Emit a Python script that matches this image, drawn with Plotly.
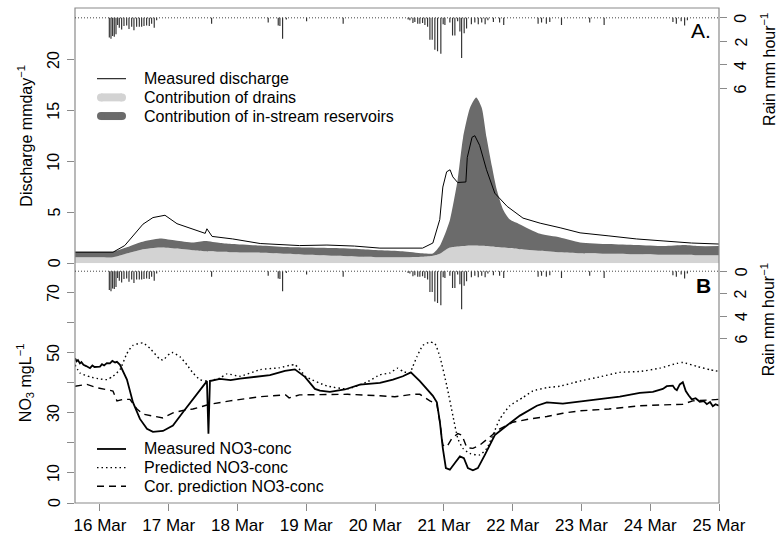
import plotly.graph_objects as go

# ---------------- data (time = day of March, fractional) ----------------
# Measured discharge (mm/day)
q_time = [15.637, 16.19, 16.36, 16.48, 16.625, 16.77, 16.945, 17.12, 17.35, 17.53, 17.555,
          17.63, 17.93, 18.33, 18.9, 19.3, 19.7, 20.07, 20.69, 20.84, 20.94, 20.985, 21.04,
          21.09, 21.13, 21.2, 21.32, 21.34, 21.41, 21.45, 21.52, 21.62, 21.74, 21.92, 22.15,
          22.40, 22.69, 22.98, 23.4, 23.8, 24.2, 24.6, 25.0]
q_measured = [1.1, 1.1, 1.75, 2.7, 3.85, 4.5, 4.73, 3.9, 3.35, 2.95, 3.4,
              2.65, 2.4, 1.95, 1.75, 1.8, 1.7, 1.5, 1.5, 2.0, 4.3, 7.5, 9.0,
              9.2, 8.5, 7.95, 8.0, 10.4, 12.4, 12.55, 11.6, 9.2, 6.9, 5.6, 4.45,
              3.95, 3.5, 3.0, 2.7, 2.4, 2.2, 2.0, 1.9]

# Modelled contributions (mm/day)
c_time = [15.637, 16.0, 16.19, 16.4, 16.6, 16.87, 17.1, 17.35, 17.53, 17.75, 17.93, 18.33,
          18.7, 19.0, 19.4, 19.8, 20.07, 20.4, 20.69, 20.84, 20.94, 21.04, 21.09, 21.2,
          21.28, 21.38, 21.47, 21.55, 21.62, 21.70, 21.77, 21.86, 21.96, 22.1, 22.4, 22.69,
          22.98, 23.4, 23.8, 24.2, 24.5, 24.7, 25.0]
q_drains = [0.6, 0.6, 0.6, 1.0, 1.35, 1.55, 1.45, 1.3, 1.2, 1.15, 1.1, 1.05,
            0.95, 0.85, 0.75, 0.65, 0.6, 0.6, 0.65, 0.75, 0.95, 1.4, 1.55, 1.65,
            1.7, 1.75, 1.75, 1.72, 1.7, 1.65, 1.6, 1.55, 1.5, 1.4, 1.25, 1.1,
            1.0, 0.95, 0.9, 0.85, 0.85, 0.8, 0.8]
q_reservoirs = [0.55, 0.55, 0.55, 0.6, 0.75, 0.9, 0.8, 0.75, 1.0, 0.85, 0.8, 0.7,
                0.65, 0.7, 0.75, 0.75, 0.7, 0.6, 0.35, 0.22, 0.75, 1.9, 2.75, 6.55,
                10.7, 13.55, 14.55, 13.58, 10.7, 7.85, 5.6, 3.75, 2.8, 2.45, 1.65, 1.45,
                1.06, 0.95, 0.9, 0.85, 0.95, 0.9, 0.9]

# NO3 concentrations (mg/L)
n_time = [15.637, 15.66, 15.68, 15.709, 15.73, 15.76, 15.8, 15.855, 15.89, 15.92, 16.0,
          16.03, 16.06, 16.1, 16.145, 16.18, 16.22, 16.247,
          16.291, 16.334, 16.392, 16.48, 16.581, 16.683, 16.77, 16.916, 17.061, 17.206,
          17.352, 17.497, 17.555, 17.577, 17.599, 17.744, 17.9, 18.035, 18.2, 18.326,
          18.471, 18.6, 18.689, 18.834, 18.98, 19.125, 19.198, 19.343, 19.561, 19.779,
          20.07, 20.259, 20.404, 20.52, 20.651, 20.84, 20.898, 20.942, 20.985, 21.029,
          21.087, 21.16, 21.233, 21.291, 21.349, 21.422, 21.494, 21.596, 21.741, 21.916,
          22.105, 22.352, 22.497, 22.73, 22.977, 23.267, 23.558, 23.849, 24.038, 24.183,
          24.241, 24.328, 24.36, 24.387, 24.43, 24.474, 24.517, 24.56, 24.605, 24.66,
          24.721, 24.78, 24.823, 24.87, 24.91, 24.95, 25.0]
no3_measured = [48.2, 47.2, 47.6, 46.5, 46.9, 46.0, 45.6, 44.9, 45.8, 45.3, 45.4,
                46.2, 45.8, 46.6, 46.5, 47.3, 46.8, 47.0,
                46.0, 44.0, 41.1, 33.5, 28.0, 24.7, 23.7, 24.0, 25.8, 30.2,
                34.5, 38.9, 40.6, 23.1, 40.6, 41.3, 40.9, 41.4, 41.9, 42.2,
                42.6, 43.4, 44.0, 44.5, 42.0, 38.0, 37.4, 37.0, 37.8, 39.4,
                40.0, 41.1, 42.2, 43.5, 40.6, 35.7, 33.5, 26.9, 18.2, 11.6,
                11.1, 13.3, 15.5, 14.9, 11.6, 10.9, 11.6, 16.0, 22.6, 25.8,
                29.1, 32.4, 33.5, 33.1, 33.8, 34.5, 35.4, 36.7, 37.0, 38.0,
                38.9, 39.1, 38.0, 37.6, 39.5, 40.2, 37.3, 35.8, 34.5, 34.9,
                33.7, 33.9, 32.9, 33.6, 32.2, 32.9, 32.4]

p_time = [15.637, 15.709, 15.855, 16.0, 16.102, 16.189, 16.291, 16.392, 16.48, 16.625,
          16.727, 16.872, 16.916, 17.017, 17.061, 17.163, 17.265, 17.352, 17.453, 17.555,
          17.744, 17.846, 18.035, 18.326, 18.6, 18.834, 19.0, 19.3, 19.6, 19.9, 20.07,
          20.215, 20.331, 20.404, 20.506, 20.549, 20.608, 20.695, 20.797, 20.869, 20.942,
          21.044, 21.131, 21.203, 21.276, 21.378, 21.523, 21.625, 21.712, 21.814, 21.959,
          22.148, 22.294, 22.497, 22.686, 22.875, 22.977, 23.267, 23.558, 23.849, 24.14,
          24.387, 24.474, 24.677, 24.866, 25.0]
no3_predicted = [46.0, 43.3, 42.0, 41.3, 41.1, 42.2, 44.4, 49.8, 52.5, 53.3,
                 51.5, 47.9, 47.6, 49.8, 50.1, 48.7, 46.0, 43.3, 41.1, 40.6,
                 41.6, 43.0, 42.2, 44.4, 45.0, 46.0, 42.0, 39.0, 38.0, 40.5, 42.7,
                 43.3, 44.9, 43.8, 43.3, 45.5, 48.7, 52.5, 53.6, 53.1, 48.7,
                 38.9, 29.1, 21.5, 18.2, 16.5, 16.0, 18.2, 22.6, 28.0, 32.4,
                 35.1, 37.3, 38.4, 38.9, 40.0, 40.6, 42.0, 43.5, 43.8, 44.9,
                 46.5, 46.8, 45.5, 44.4, 43.8]

k_time = [15.637, 15.811, 15.956, 16.102, 16.189, 16.247, 16.334, 16.436, 16.538, 16.625,
          16.727, 16.916, 17.061, 17.206, 17.352, 17.497, 17.599, 17.89, 18.326, 18.7,
          18.75, 18.9, 19.2, 19.6, 20.07, 20.288, 20.549, 20.651, 20.797, 20.898, 20.942,
          20.985, 21.044, 21.116, 21.203, 21.262, 21.334, 21.422, 21.523, 21.669, 21.814,
          22.003, 22.25, 22.497, 22.73, 22.977, 23.4, 23.849, 24.241, 24.474, 24.619,
          24.823, 25.0]
no3_corrected = [38.9, 39.5, 38.4, 37.6, 37.3, 34.0, 34.5, 34.5, 31.3, 29.6,
                 29.1, 28.3, 30.0, 30.8, 31.3, 32.2, 32.9, 34.0, 35.4, 36.0,
                 35.0, 36.0, 36.0, 36.2, 35.7, 35.4, 36.2, 36.2, 34.0, 32.9, 26.9,
                 19.3, 18.7, 21.5, 23.1, 22.6, 18.4, 18.2, 19.3, 22.0, 24.7,
                 26.9, 28.0, 28.8, 29.9, 30.7, 31.3, 32.4, 32.6, 32.9, 34.0,
                 34.2, 34.5]

# Rainfall (mm/hour)
rain_time = [16.136, 16.160, 16.184, 16.208, 16.233, 16.257, 16.281, 16.315, 16.349, 16.388,
             16.422, 16.461, 16.494, 16.533, 16.572, 16.606, 16.640, 16.678, 16.717, 16.751,
             16.789, 16.824, 17.623, 18.446, 18.592, 18.616, 18.655, 18.71, 19.004, 19.536,
             20.48, 20.506, 20.55, 20.578, 20.62, 20.651, 20.69, 20.724, 20.763, 20.797,
             20.83, 20.869, 20.908, 20.956, 20.99, 21.015, 21.087, 21.126, 21.16, 21.2,
             21.233, 21.258, 21.295, 21.33, 21.40, 21.45, 21.5, 21.55, 21.6, 21.64, 21.72,
             21.81, 21.87, 22.37, 22.42, 22.49, 22.54, 22.71, 23.12, 23.33, 24.33, 24.38,
             24.45, 24.5, 24.54]
rain_mm = [1.67, 1.78, 1.55, 1.6, 1.4, 0.6, 0.85, 1.0, 0.7, 0.65,
           0.95, 0.75, 1.05, 0.75, 0.75, 0.75, 0.7, 0.65, 0.7, 0.5,
           0.85, 0.2, 0.5, 0.4, 0.65, 0.7, 1.78, 0.15, 0.3, 0.5,
           0.15, 0.2, 0.45, 0.35, 0.5, 0.5, 0.45, 0.6, 0.75, 1.86,
           1.86, 2.7, 2.83, 3.05, 0.55, 0.6, 0.4, 1.5, 1.5, 0.3,
           1.17, 3.4, 1.3, 0.9, 0.55, 0.4, 0.55, 0.4, 0.55, 0.2, 0.35,
           0.4, 0.6, 0.5, 0.4, 0.5, 0.35, 0.6, 0.4, 0.6, 0.35, 0.5,
           0.3, 0.65, 0.2]

day_ticks = [16, 17, 18, 19, 20, 21, 22, 23, 24, 25]
day_labels = ["16 Mar", "17 Mar", "18 Mar", "19 Mar", "20 Mar",
              "21 Mar", "22 Mar", "23 Mar", "24 Mar", "25 Mar"]
discharge_ticks = [0, 5, 10, 15, 20]
no3_ticks = [0, 10, 20, 30, 40, 50, 60, 70]
no3_labels = ["0", "10", "", "30", "", "50", "", "70"]
rain_ticks = [0, 2, 4, 6]

# ---------------- figure ----------------
FONT = "Liberation Sans, Arial, Helvetica, sans-serif"
FRAME = "#8a8a8a"
LIGHT = "#d3d3d3"
DARK = "#6b6b6b"
SPLIT = 0.4841  # boundary between the two panels (paper units)

q_total = [d + r for d, r in zip(q_drains, q_reservoirs)]

fig = go.Figure()

# Panel A: stacked contributions + measured discharge
fig.add_trace(go.Scatter(x=c_time, y=q_drains, mode="lines", fill="tozeroy",
                         line=dict(width=0, color=LIGHT, shape="spline", smoothing=0.6),
                         fillcolor=LIGHT, xaxis="x", yaxis="y", hoverinfo="skip"))
fig.add_trace(go.Scatter(x=c_time, y=q_total, mode="lines", fill="tonexty",
                         line=dict(width=0, color=DARK, shape="spline", smoothing=0.6),
                         fillcolor=DARK, xaxis="x", yaxis="y", hoverinfo="skip"))
fig.add_trace(go.Scatter(x=q_time, y=q_measured, mode="lines",
                         line=dict(width=1, color="black"),
                         xaxis="x", yaxis="y", hoverinfo="skip"))

# Rain bars hanging from the top of each panel
for ax in ("y2", "y4"):
    fig.add_trace(go.Bar(x=rain_time, y=rain_mm, width=0.017,
                         marker=dict(color="#333333", line=dict(width=0)),
                         xaxis="x", yaxis=ax, hoverinfo="skip"))

# Panel B: NO3 concentrations
fig.add_trace(go.Scatter(x=n_time, y=no3_measured, mode="lines",
                         line=dict(width=1.8, color="black"),
                         xaxis="x", yaxis="y3", hoverinfo="skip"))
fig.add_trace(go.Scatter(x=p_time, y=no3_predicted, mode="lines",
                         line=dict(width=1.4, color="black", dash="1.5px,3px",
                                   shape="spline", smoothing=0.5),
                         xaxis="x", yaxis="y3", hoverinfo="skip"))
fig.add_trace(go.Scatter(x=k_time, y=no3_corrected, mode="lines",
                         line=dict(width=1.4, color="black", dash="7px,5px"),
                         xaxis="x", yaxis="y3", hoverinfo="skip"))

tick_common = dict(ticks="outside", ticklen=7, tickcolor=FRAME, tickwidth=1,
                   showgrid=False, zeroline=False, showline=False)
ylab_off = dict(showticklabels=False)

fig.update_layout(
    width=780, height=543,
    margin=dict(l=75, r=61, t=8, b=31),
    paper_bgcolor="white", plot_bgcolor="white",
    showlegend=False, barmode="overlay",
    font=dict(family=FONT, size=16, color="black"),
    xaxis=dict(range=[15.637, 25.0], tickvals=day_ticks, ticktext=day_labels,
               anchor="y3", tickfont=dict(family=FONT, size=17, color="black"),
               **tick_common),
    yaxis=dict(domain=[SPLIT, 1], range=[0, 25.1], tickvals=discharge_ticks,
               anchor="x", **ylab_off, **tick_common),
    yaxis2=dict(overlaying="y", side="right", range=[20.83, -0.833],
                tickvals=rain_ticks, anchor="x", **ylab_off, **tick_common),
    yaxis3=dict(domain=[0, SPLIT], range=[0, 79.8], tickvals=no3_ticks,
                anchor="x", **ylab_off, **tick_common),
    yaxis4=dict(overlaying="y3", side="right", range=[20.7, -0.7],
                tickvals=rain_ticks, anchor="x", **ylab_off, **tick_common),
)


def px_x(px):
    return (px - 75) / 644.0


def px_y(py):
    return (512 - py) / 504.0


shapes = [
    # plot frame
    dict(type="rect", xref="paper", yref="paper", x0=0, x1=1, y0=0, y1=1,
         line=dict(color=FRAME, width=1.2), layer="above"),
    # zero-rain reference lines
    dict(type="line", xref="paper", yref="y2", x0=0, x1=1, y0=0, y1=0,
         line=dict(color="#444444", width=1, dash="1px,2px")),
    dict(type="line", xref="paper", yref="y4", x0=0, x1=1, y0=0, y1=0,
         line=dict(color="#444444", width=1, dash="1px,2px")),
]

# legend swatches, panel A
lx0, lx1 = px_x(97), px_x(126)
shapes.append(dict(type="line", xref="paper", yref="paper", x0=lx0, x1=lx1,
                   y0=px_y(80), y1=px_y(80), line=dict(color="black", width=1)))
for py, col in ((99, LIGHT), (118, DARK)):
    shapes.append(dict(type="line", xref="paper", yref="paper",
                       x0=px_x(101), x1=px_x(122), y0=px_y(py), y1=px_y(py),
                       line=dict(color=col, width=8)))
    for cx in (101, 122):
        shapes.append(dict(type="circle", xref="paper", yref="paper",
                           xsizemode="pixel", ysizemode="pixel",
                           xanchor=px_x(cx), yanchor=px_y(py),
                           x0=-4, x1=4, y0=-4, y1=4,
                           fillcolor=col, line=dict(width=0)))

# legend swatches, panel B
for py, dash, w in ((457, "solid", 1.8), (476, "1.5px,3px", 1.4), (495, "7px,5px", 1.4)):
    shapes.append(dict(type="line", xref="paper", yref="paper", x0=lx0, x1=lx1,
                       y0=px_y(py), y1=px_y(py),
                       line=dict(color="black", width=w, dash=dash)))

fig.update_layout(shapes=shapes)

ann = []
legend_a = ["Measured discharge", "Contribution of drains",
            "Contribution of in-stream reservoirs"]
for py, txt in zip((80, 99, 118), legend_a):
    ann.append(dict(text=txt, x=px_x(142), y=px_y(py), xanchor="left", yanchor="middle"))
legend_b = ["Measured NO3-conc", "Predicted NO3-conc", "Cor. prediction NO3-conc"]
for py, txt in zip((457, 476, 495), legend_b):
    ann.append(dict(text=txt, x=px_x(142), y=px_y(py), xanchor="left", yanchor="middle"))

# rotated tick labels (parallel to the axes)
for v in discharge_ticks:
    ann.append(dict(text=str(v), x=px_x(54), y=v, yref="y", textangle=-90,
                    xanchor="center", yanchor="middle"))
for v, lab in zip(no3_ticks, no3_labels):
    if lab:
        ann.append(dict(text=lab, x=px_x(54), y=v, yref="y3", textangle=-90,
                        xanchor="center", yanchor="middle"))
for ax in ("y2", "y4"):
    for v in rain_ticks:
        ann.append(dict(text=str(v), x=px_x(741), y=v, yref=ax, textangle=-90,
                        xanchor="center", yanchor="middle"))

# axis titles
ann.append(dict(text="Discharge mmday<sup>−1</sup>", x=px_x(25), y=px_y(138),
                textangle=-90, xanchor="center", yanchor="middle"))
ann.append(dict(text="NO<sub>3</sub> mgL<sup>−1</sup>", x=px_x(25), y=px_y(390),
                textangle=-90, xanchor="center", yanchor="middle"))
ann.append(dict(text="Rain mm hour<sup>−1</sup>", x=px_x(768), y=px_y(70),
                textangle=-90, xanchor="center", yanchor="middle"))
ann.append(dict(text="Rain mm hour<sup>−1</sup>", x=px_x(768), y=px_y(325),
                textangle=-90, xanchor="center", yanchor="middle"))

# panel letters
ann.append(dict(text="A.", x=px_x(713), y=px_y(31), xanchor="right", yanchor="middle",
                font=dict(size=21)))
ann.append(dict(text="<b>B</b>", x=px_x(713), y=px_y(291), xanchor="right",
                yanchor="middle", font=dict(size=21)))

for a in ann:
    a.setdefault("xref", "paper")
    a.setdefault("yref", "paper")
    a["showarrow"] = False
    a.setdefault("font", dict(size=16))
    a["font"].setdefault("family", FONT)
    a["font"].setdefault("color", "black")

fig.update_layout(annotations=ann)

fig.write_html("out.html", config=dict(displayModeBar=False, staticPlot=True))
